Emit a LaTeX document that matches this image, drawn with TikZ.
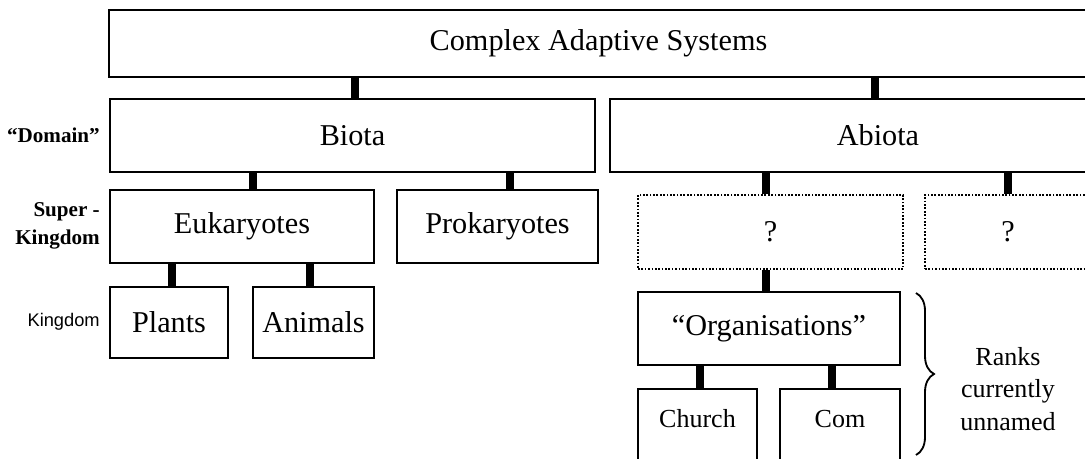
\documentclass[tikz,border=0pt]{standalone}
\usepackage{fontspec}
\setmainfont{Liberation Serif}
\newfontfamily\kingfont{Liberation Sans}
\usetikzlibrary{decorations.pathreplacing}

\def \u{0.025cm}

\tikzset{
  box/.style 2 args={draw, line width=1.4pt, minimum width=#1*\u, minimum height=#2*\u,
    inner sep=0pt, font=\fontsize{21.5}{26}\selectfont},
  openbox/.style 2 args={box={#1}{#2}, line width=1.4pt, dash pattern=on 1.2pt off 1.2pt},
  leafbox/.style={draw, line width=1.4pt, minimum width=#1*\u, inner xsep=0pt, inner ysep=0pt,
    text height=0.95cm, text depth=0.875cm, anchor=base, font=\fontsize{18.5}{22}\selectfont},
  bar/.style={line width=5pt},
  rank/.style={anchor=east, align=right, inner sep=0pt, font=\bfseries\fontsize{15}{19.5}\selectfont}
}

\begin{document}
\begin{tikzpicture}[x=0.025cm, y=-0.025cm]

\useasboundingbox (0,0) rectangle (1085,459);

% top and domain level
\node [box={979}{67}] (cas) at (598.5,43.5) {Complex Adaptive Systems};
\node [box={485}{73}] (biota) at (352.5,135.5) {Biota};
\node [box={536}{73}] (abiota) at (878,135.5) {Abiota};

% super kingdoms
\node [box={264}{73}] (euk) at (242,226.5) {Eukaryotes};
\node [box={201}{73}] (prok) at (497.5,226.5) {Prokaryotes};
\node [openbox={265}{74}] (qa) at (770.5,232) {?};
\node [openbox={166}{74}] (qb) at (1008,232) {?};

% kingdoms
\node [box={118}{71}] (plants) at (169,322.5) {Plants};
\node [box={121}{71}] (animals) at (313.5,322.5) {Animals};
\node [box={262}{73}] (org) at (769,328.5) {``Organisations''};
\node [leafbox=119] (church) at (697.5,427) {Church};
\node [leafbox=120] (com) at (840,427) {Com};

% ranks on the left
\node [rank] (domain) at (100,135) {``Domain''};
\node [rank] (superking) at (100,226) {Super -\\Kingdom};
\node [anchor=east, inner sep=0pt, font=\kingfont\fontsize{13}{16}\selectfont] (king) at (100,322) {Kingdom};

% links
\draw [bar] (355,0 |- cas.south) -- (355,0 |- biota.north);
\draw [bar] (875,0 |- cas.south) -- (875,0 |- abiota.north);
\draw [bar] (253,0 |- biota.south) -- (253,0 |- euk.north);
\draw [bar] (510,0 |- biota.south) -- (510,0 |- prok.north);
\draw [bar] (766,0 |- abiota.south) -- (766,0 |- qa.north);
\draw [bar] (1008,0 |- abiota.south) -- (1008,0 |- qb.north);
\draw [bar] (172,0 |- euk.south) -- (172,0 |- plants.north);
\draw [bar] (310,0 |- euk.south) -- (310,0 |- animals.north);
\draw [bar] (766,0 |- qa.south) -- (766,0 |- org.north);
\draw [bar] (700,0 |- org.south) -- (700,0 |- church.north);
\draw [bar] (832,0 |- org.south) -- (832,0 |- com.north);

% unnamed ranks
\coordinate (bracetop) at (916,293);
\coordinate (bracebot) at (916,455);
\draw [line width=1.3pt, decorate, decoration={brace, amplitude=0.45cm}] (bracetop) -- (bracebot);
\node [align=center, font=\fontsize{18.5}{23}\selectfont] (unnamed) at (1008,389) {Ranks\\currently\\unnamed};

\end{tikzpicture}
\end{document}
